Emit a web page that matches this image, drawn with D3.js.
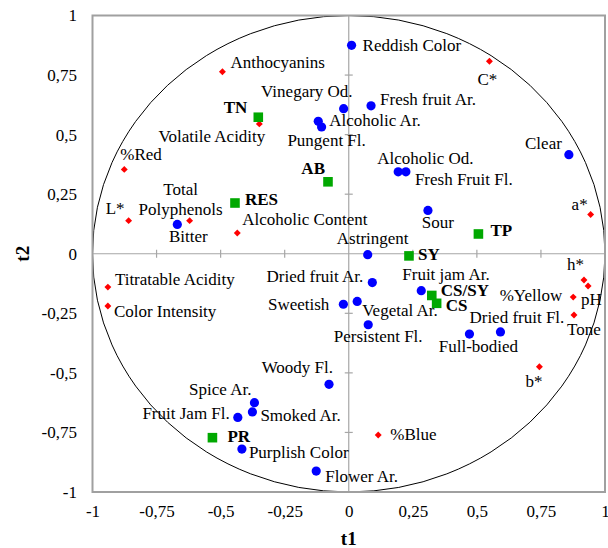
<!DOCTYPE html>
<html>
<head>
<meta charset="utf-8">
<script src="https://cdn.jsdelivr.net/npm/d3@7"></script>
<style>
  body { margin: 0; background: #fff; font-family: 'Liberation Serif', 'Times New Roman', Times, serif; }
  svg { display: block; }
</style>
</head>
<body>
<div class="chart-section"></div>
<script>
// sensory attributes (blue circles)
const sensoryNames = ["Reddish Color", "Vinegary Od.", "Fresh fruit Ar.", "Alcoholic Ar.", "Pungent Fl.",
  "Clear", "Alcoholic Od.", "Fresh Fruit Fl.", "Bitter", "Sour", "Astringent", "Dried fruit Ar.",
  "Sweetish", "Vegetal Ar.", "Fruit jam Ar.", "Persistent Fl.", "Full-bodied", "Dried fruit Fl.",
  "Woody Fl.", "Spice Ar.", "Smoked Ar.", "Fruit Jam Fl.", "Purplish Color", "Flower Ar."];
const sensoryT1 = [0.011, -0.02, 0.087, -0.119, -0.106, 0.859, 0.193, 0.223, -0.669, 0.309, 0.074, 0.092,
  -0.021, 0.033, 0.283, 0.076, 0.471, 0.592, -0.077, -0.368, -0.376, -0.433, -0.417, -0.127];
const sensoryT2 = [0.875, 0.609, 0.621, 0.556, 0.532, 0.416, 0.344, 0.344, 0.123, 0.182, -0.004, -0.121,
  -0.212, -0.2, -0.155, -0.298, -0.337, -0.328, -0.548, -0.625, -0.664, -0.687, -0.82, -0.912];

// chemical / colour parameters (red diamonds)
const chemNames = ["Anthocyanins", "C*", "Volatile Acidity", "%Red", "L*", "Total Polyphenols",
  "Alcoholic Content", "a*", "Titratable Acidity", "Color Intensity", "h*", "pH", "%Yellow", "Tone", "b*", "%Blue"];
const chemT1 = [-0.493, 0.549, -0.349, -0.876, -0.859, -0.621, -0.435, 0.944, -0.94, -0.94, 0.918, 0.934, 0.876, 0.879, 0.744, 0.115];
const chemT2 = [0.764, 0.808, 0.545, 0.354, 0.139, 0.139, 0.087, 0.165, -0.14, -0.219, -0.11, -0.135, -0.182, -0.257, -0.474, -0.761];

// wines (green squares)
const wineNames = ["TN", "AB", "RES", "TP", "SY", "CS/SY", "CS", "PR"];
const wineT1 = [-0.353, -0.081, -0.444, 0.506, 0.235, 0.324, 0.343, -0.532];
const wineT2 = [0.573, 0.302, 0.213, 0.083, -0.009, -0.175, -0.208, -0.772];

const tickValues = [-1, -0.75, -0.5, -0.25, 0, 0.25, 0.5, 0.75, 1];

// label placement: [anchor, dx, dy] relative to the marker
const labelLayout = {
  "Reddish Color": ["start", 11, 6], "Vinegary Od.": ["end", 9, -12], "Fresh fruit Ar.": ["start", 9, -1],
  "Alcoholic Ar.": ["start", 11, 5], "Pungent Fl.": ["middle", 5, 19], "Clear": ["end", -7, -6],
  "Alcoholic Od.": ["start", -21, -8], "Fresh Fruit Fl.": ["start", 9, 13], "Bitter": ["middle", 11, 18],
  "Sour": ["middle", 10, 18], "Astringent": ["middle", 5, -11], "Dried fruit Ar.": ["end", -9, -1],
  "Sweetish": ["end", -14, 6], "Vegetal Ar.": ["start", 5, 15], "Fruit jam Ar.": ["start", -19, -11],
  "Persistent Fl.": ["middle", 10, 17], "Full-bodied": ["middle", 9, 18], "Dried fruit Fl.": ["start", -31, -9],
  "Woody Fl.": ["end", 4, -11], "Spice Ar.": ["end", -3, -8], "Smoked Ar.": ["start", 8, 9],
  "Fruit Jam Fl.": ["end", -8, 2], "Purplish Color": ["start", 7, 9], "Flower Ar.": ["start", 9, 11],
  "Anthocyanins": ["start", 8, -4], "C*": ["middle", -2, 24], "Volatile Acidity": ["end", 6, 18],
  "%Red": ["start", -4, -9], "L*": ["end", -4, -7], "Total Polyphenols": ["middle", -9, -6],
  "Alcoholic Content": ["start", 5, -8], "a*": ["end", -3, -4], "Titratable Acidity": ["start", 7, -2],
  "Color Intensity": ["start", 6, 11], "h*": ["end", 0, -10], "pH": ["start", -7, 19],
  "%Yellow": ["end", -11, 4], "Tone": ["start", -7, 20], "b*": ["start", -14, 20], "%Blue": ["start", 12, 5],
  "TN": ["end", -11, -4], "AB": ["end", -3, -8], "RES": ["start", 10, 2], "TP": ["start", 12, 2],
  "SY": ["start", 9, 4], "CS/SY": ["start", 9, 1], "CS": ["start", 9, 8], "PR": ["start", 15, 4]
};

const width = 608;
const height = 548;
const fontSize = 17;
const serifStyle = "font-family: 'Liberation Serif', 'Times New Roman', Times, serif";

const x = d3.scaleLinear().domain([-1, 1]).range([92.5, 605]);
const y = d3.scaleLinear().domain([-1, 1]).range([492, 15.5]);

const comma = d3.formatLocale({ decimal: ",", thousands: ".", grouping: [3], currency: ["", ""], minus: "-" }).format("~g");

const svg = d3
  .select(".chart-section")
  .append("svg")
  .attr("width", width)
  .attr("height", height)
  .attr("style", serifStyle)
  .attr("font-size", fontSize);

// zero axes
svg.append("line")
  .attr("x1", x(-1)).attr("x2", x(1)).attr("y1", y(0)).attr("y2", y(0))
  .attr("stroke", "#a6a6a6").attr("stroke-width", 1.2);
svg.append("line")
  .attr("x1", x(0)).attr("x2", x(0)).attr("y1", y(-1)).attr("y2", y(1))
  .attr("stroke", "#a6a6a6").attr("stroke-width", 1.2);

const inner = tickValues.filter((d) => Math.abs(d) < 1 && d !== 0);
svg.append("g").selectAll("line").data(inner).join("line")
  .attr("x1", (d) => x(d)).attr("x2", (d) => x(d))
  .attr("y1", y(0) - 4).attr("y2", y(0) + 4)
  .attr("stroke", "#a6a6a6").attr("stroke-width", 1.2);
svg.append("g").selectAll("line").data(inner).join("line")
  .attr("y1", (d) => y(d)).attr("y2", (d) => y(d))
  .attr("x1", x(0) - 4).attr("x2", x(0) + 4)
  .attr("stroke", "#a6a6a6").attr("stroke-width", 1.2);

// correlation circle
svg.append("ellipse")
  .attr("cx", x(0)).attr("cy", y(0))
  .attr("rx", x(1) - x(0)).attr("ry", y(0) - y(1))
  .attr("fill", "none").attr("stroke", "#000").attr("stroke-width", 1);

// frame
svg.append("rect")
  .attr("x", x(-1)).attr("y", y(1))
  .attr("width", x(1) - x(-1)).attr("height", y(-1) - y(1))
  .attr("fill", "none").attr("stroke", "#a0a0a0").attr("stroke-width", 2);

// tick labels
const xAxis = svg.append("g")
  .attr("transform", `translate(0,${y(-1)})`)
  .call(d3.axisBottom(x).tickValues(tickValues).tickFormat(comma).tickSize(0).tickPadding(13));
const yAxis = svg.append("g")
  .attr("transform", `translate(${x(-1)},0)`)
  .call(d3.axisLeft(y).tickValues(tickValues).tickFormat(comma).tickSize(0).tickPadding(15.5));
[xAxis, yAxis].forEach((g) => {
  g.attr("font-family", null).attr("font-size", fontSize);
  g.select(".domain").remove();
  g.selectAll("text").attr("fill", "#000").attr("style", serifStyle);
});

// axis titles
svg.append("text")
  .attr("x", x(0)).attr("y", 545)
  .attr("text-anchor", "middle").attr("font-weight", "bold").attr("font-size", 19)
  .attr("style", serifStyle)
  .text("t1");
svg.append("text")
  .attr("transform", `translate(29,${y(0)}) rotate(-90)`)
  .attr("text-anchor", "middle").attr("font-weight", "bold").attr("font-size", 19)
  .attr("style", serifStyle)
  .text("t2");

const toPoints = (names, t1, t2) => names.map((n, i) => ({ name: n, t1: t1[i], t2: t2[i] }));
const sensory = toPoints(sensoryNames, sensoryT1, sensoryT2);
const chem = toPoints(chemNames, chemT1, chemT2);
const wines = toPoints(wineNames, wineT1, wineT2);

const drawLabels = (data, bold) => {
  const lab = svg.append("g")
    .selectAll("text")
    .data(data)
    .join("text")
    .attr("style", serifStyle)
    .attr("text-anchor", (d) => labelLayout[d.name][0])
    .attr("x", (d) => x(d.t1) + labelLayout[d.name][1])
    .attr("y", (d) => y(d.t2) + labelLayout[d.name][2])
    .attr("font-weight", bold ? "bold" : "normal")
    .attr("fill", "#000");
  lab.each(function (d) {
    const t = d3.select(this);
    if (d.name === "Total Polyphenols") {
      const xx = x(d.t1) + labelLayout[d.name][1];
      t.append("tspan").attr("x", xx).attr("dy", -20).text("Total");
      t.append("tspan").attr("x", xx).attr("dy", 20).text("Polyphenols");
    } else {
      t.text(d.name);
    }
  });
};

drawLabels(sensory, false);
drawLabels(chem, false);
drawLabels(wines, true);

// markers
svg.append("g").selectAll("circle").data(sensory).join("circle")
  .attr("cx", (d) => x(d.t1)).attr("cy", (d) => y(d.t2))
  .attr("r", 4.6).attr("fill", "#0000ff");

svg.append("g").selectAll("path").data(chem).join("path")
  .attr("transform", (d) => `translate(${x(d.t1)},${y(d.t2)}) rotate(45)`)
  .attr("d", d3.symbol(d3.symbolSquare, 24))
  .attr("fill", "#ff0000");

svg.append("g").selectAll("path").data(wines).join("path")
  .attr("transform", (d) => `translate(${x(d.t1)},${y(d.t2)})`)
  .attr("d", d3.symbol(d3.symbolSquare, 92))
  .attr("fill", "#00a800");
</script>
</body>
</html>
